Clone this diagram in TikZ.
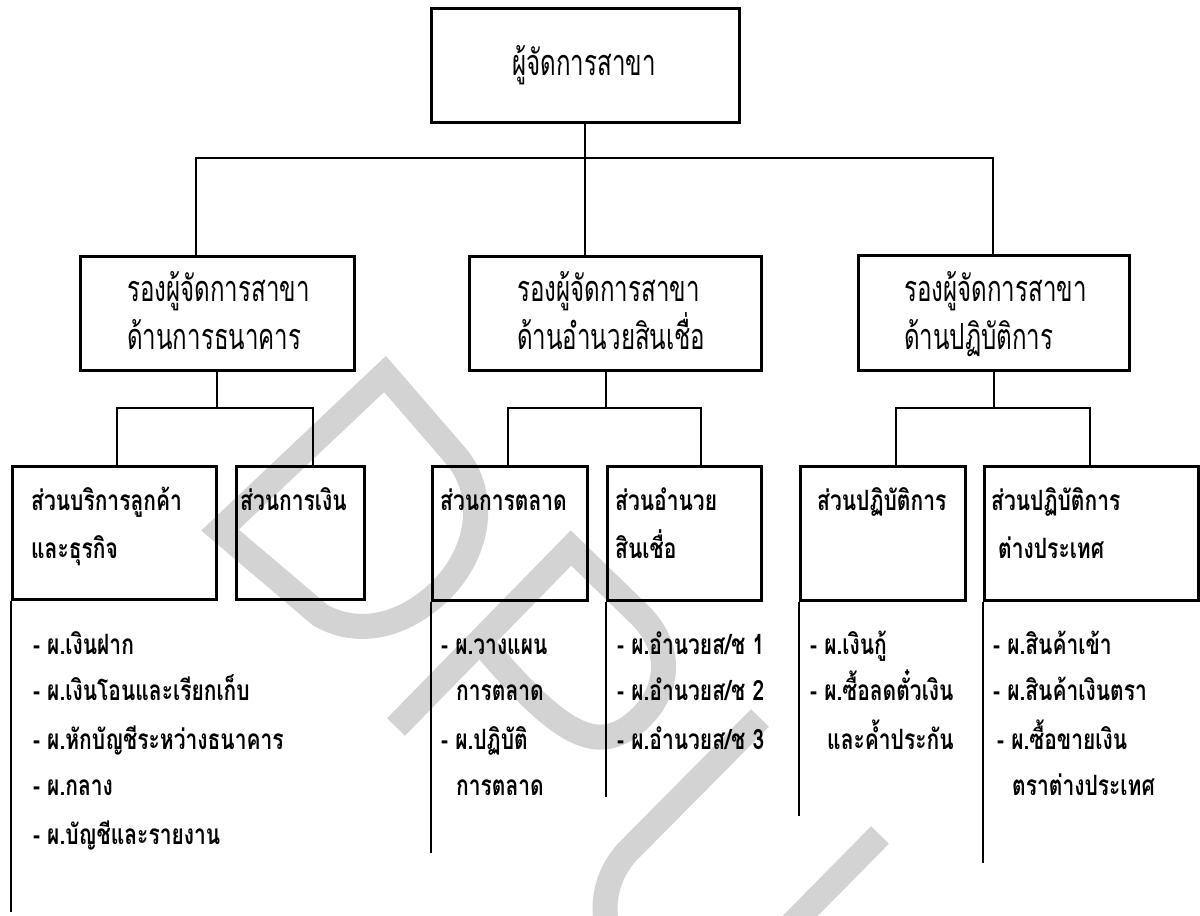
\documentclass[tikz,border=0pt]{standalone}
\usepackage{fontspec}
\newfontfamily\thaiM[Script=Thai,FakeStretch=0.67]{Loma}
\newfontfamily\thaiL[Script=Thai,FakeStretch=0.75]{Loma}
\definecolor{wm}{RGB}{211,211,211}
\tikzset{
  box/.style={draw, line width=2.8pt, inner sep=0pt, anchor=north west},
  conn/.style={line width=2pt},
  stemline/.style={line width=2.6pt},
  midtxt/.style={anchor=base west, inner sep=0pt, font=\thaiM\fontsize{36}{36}\selectfont},
  lowtxt/.style={anchor=base west, inner sep=0pt, font=\thaiL\bfseries\fontsize{28}{28}\selectfont},
  wmark/.style={draw=wm, line width=25pt},
}
\begin{document}
\begin{tikzpicture}[x=1pt,y=-1pt]
\useasboundingbox (0,0) rectangle (1200,916);
% watermark
\begin{scope}
\clip (0,0) rectangle (1200,916);
\draw[wmark] (220,530) -- (385,374) -- (455,455) .. controls (490,495) and (480,560) .. (430,600) .. controls (395,628) and (355,635) .. (320,615) -- cycle;
\draw[wmark] (396,727) -- (571,548) -- (640,615) .. controls (680,655) and (665,705) .. (625,730) .. controls (590,750) and (555,730) .. (480,641);
\draw[wmark] (760,718) -- (629.6,849.6) .. controls (613.8,865.4) and (605,886.7) .. (605,909) .. controls (605,955.4) and (642.6,993) .. (689,993) .. controls (711.3,993) and (732.6,984.2) .. (748.4,968.4) -- (880,835);
\end{scope}
% boxes
\node[box, minimum width=308pt, minimum height=114pt] (top) at (430,7) {};
\node[box, minimum width=274pt, minimum height=114pt] (m1) at (79,255) {};
\node[box, minimum width=292pt, minimum height=114pt] (m2) at (468,255) {};
\node[box, minimum width=271pt, minimum height=115pt] (m3) at (857,254) {};
\node[box, minimum width=204pt, minimum height=133pt] (l1) at (11,465) {};
\node[box, minimum width=128pt, minimum height=133pt] (l2) at (235,465) {};
\node[box, minimum width=155pt, minimum height=134pt] (l3) at (431,465) {};
\node[box, minimum width=154pt, minimum height=134pt] (l4) at (606,465) {};
\node[box, minimum width=165pt, minimum height=134pt] (l5) at (799,465) {};
\node[box, minimum width=214pt, minimum height=134pt] (l6) at (983,465) {};
% bus coordinates
\coordinate (busL) at (196,158);
\coordinate (busR) at (993,158);
\coordinate (b1L) at (117,408); \coordinate (b1R) at (313,408);
\coordinate (b2L) at (508,408); \coordinate (b2R) at (701,408);
\coordinate (b3L) at (896,408); \coordinate (b3R) at (1090,408);
\coordinate (d2) at (606,408);
\coordinate (e1) at (11,912);
\coordinate (e3) at (431,853);
\coordinate (e4) at (606,797);
\coordinate (e5) at (799,816);
\coordinate (e6) at (983,863);
% connectors
\draw[conn] (top.south) -- (top.south |- m2.north);
\draw[conn] (busL |- m1.north) -- (busL) -- (busR) -- (busR |- m3.north);
\draw[conn] (m1.south) -- (m1.south |- b1L);
\draw[conn] (b1L |- l1.north) -- (b1L) -- (b1R) -- (b1R |- l2.north);
\draw[conn] (d2 |- m2.south) -- (d2);
\draw[conn] (b2L |- l3.north) -- (b2L) -- (b2R) -- (b2R |- l4.north);
\draw[conn] (m3.south) -- (m3.south |- b3L);
\draw[conn] (b3L |- l5.north) -- (b3L) -- (b3R) -- (b3R |- l6.north);
\draw[stemline] (l1.south west) -- (e1);
\draw[stemline] (l3.south west) -- (e3);
\draw[stemline] (l4.south west) -- (e4);
\draw[stemline] (l5.south west) -- (e5);
\draw[stemline] (l6.south west) -- (e6);
% texts
\node[midtxt, anchor=base] (ttop) at (584,75) {ผู้จัดการสาขา};
\node[midtxt] (tm1a) at (127,301) {รองผู้จัดการสาขา};
\node[midtxt] (tm1b) at (127,349) {ด้านการธนาคาร};
\node[midtxt] (tm2a) at (517,301) {รองผู้จัดการสาขา};
\node[midtxt] (tm2b) at (517,349) {ด้านอำนวยสินเชื่อ};
\node[midtxt] (tm3a) at (904,301) {รองผู้จัดการสาขา};
\node[midtxt] (tm3b) at (904,349) {ด้านปฏิบัติการ};
\node[lowtxt] (tl1a) at (31,510) {ส่วนบริการลูกค้า};
\node[lowtxt] (tl1b) at (31,558) {และธุรกิจ};
\node[lowtxt] (tl2a) at (240,510) {ส่วนการเงิน};
\node[lowtxt] (tl3a) at (440,510) {ส่วนการตลาด};
\node[lowtxt] (tl4a) at (615,510) {ส่วนอำนวย};
\node[lowtxt] (tl4b) at (615,558) {สินเชื่อ};
\node[lowtxt] (tl5a) at (817,510) {ส่วนปฏิบัติการ};
\node[lowtxt] (tl6a) at (991,510) {ส่วนปฏิบัติการ};
\node[lowtxt] (tl6b) at (998,558) {ต่างประเทศ};
% lists
\node[lowtxt] (i11) at (33,654) {- ผ.เงินฝาก};
\node[lowtxt] (i12) at (33,700) {- ผ.เงินโอนและเรียกเก็บ};
\node[lowtxt] (i13) at (33,749) {- ผ.หักบัญชีระหว่างธนาคาร};
\node[lowtxt] (i14) at (33,795) {- ผ.กลาง};
\node[lowtxt] (i15) at (33,844) {- ผ.บัญชีและรายงาน};
\node[lowtxt] (i31) at (441,654) {- ผ.วางแผน};
\node[lowtxt] (i32) at (456,700) {การตลาด};
\node[lowtxt] (i33) at (441,749) {- ผ.ปฏิบัติ};
\node[lowtxt] (i34) at (456,795) {การตลาด};
\node[lowtxt] (i41) at (617,654) {- ผ.อำนวยส/ช 1};
\node[lowtxt] (i42) at (617,700) {- ผ.อำนวยส/ช 2};
\node[lowtxt] (i43) at (617,749) {- ผ.อำนวยส/ช 3};
\node[lowtxt] (i51) at (810,654) {- ผ.เงินกู้};
\node[lowtxt] (i52) at (810,700) {- ผ.ซื้อลดตั๋วเงิน};
\node[lowtxt] (i53) at (827,749) {และค้ำประกัน};
\node[lowtxt] (i61) at (993,654) {- ผ.สินค้าเข้า};
\node[lowtxt] (i62) at (993,700) {- ผ.สินค้าเงินตรา};
\node[lowtxt] (i63) at (997,749) {- ผ.ซื้อขายเงิน};
\node[lowtxt] (i64) at (1012,795) {ตราต่างประเทศ};
\end{tikzpicture}
\end{document}
